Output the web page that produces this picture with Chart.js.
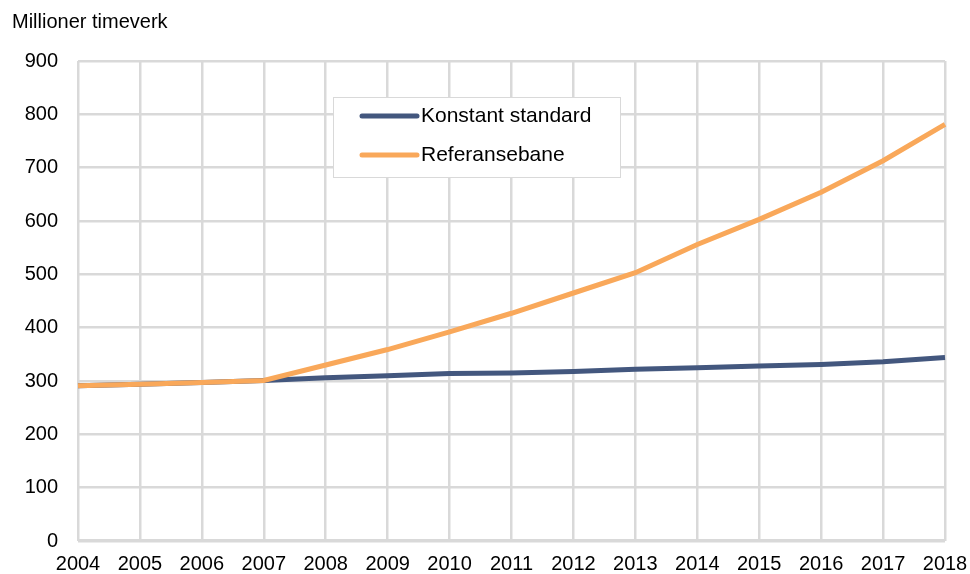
<!DOCTYPE html>
<html>
<head>
<meta charset="utf-8">
<script src="https://cdn.jsdelivr.net/npm/chart.js@4/dist/chart.umd.min.js"></script>
<style>
  body { margin: 0; background: #fff; }
  canvas { display: block; }
</style>
</head>
<body>
<canvas id="chart" width="970" height="574"></canvas>
<script>
'use strict';
// data
let years = ['2004', '2005', '2006', '2007', '2008', '2009', '2010', '2011', '2012', '2013', '2014', '2015', '2016', '2017', '2018'];
let konstantStandard = [291, 294, 297, 301, 306, 310, 314, 315, 318, 322, 325, 328, 331, 336, 344];
let referansebane = [291, 294, 297, 301, 330, 359, 392, 427, 465, 503, 556, 603, 654, 713, 781];
let yTicks = [0, 100, 200, 300, 400, 500, 600, 700, 800, 900];
let seriesNames = ['Konstant standard', 'Referansebane'];
let seriesColors = ['#43577e', '#f9a85a'];
let yTitle = 'Millioner timeverk';

const fontFamily = '"Liberation Sans", Arial, sans-serif';
const gridColor = '#d9d9d9';

// legend box inside the plot + the axis title on top
const extras = {
  id: 'extras',
  afterDraw(chart) {
    const ctx = chart.ctx;
    ctx.save();
    ctx.fillStyle = '#000';
    ctx.font = '20px ' + fontFamily;
    ctx.textBaseline = 'middle';
    ctx.textAlign = 'left';
    ctx.fillText(yTitle, 12, 22);

    let bx = 333, by = 97, bw = 287, bh = 80;
    ctx.fillStyle = '#fff';
    ctx.fillRect(bx, by, bw, bh);
    ctx.strokeStyle = gridColor;
    ctx.lineWidth = 1;
    ctx.strokeRect(bx + 0.5, by + 0.5, bw, bh);

    ctx.font = '21px ' + fontFamily;
    chart.data.datasets.forEach((ds, i) => {
      let y = 116 + i * 39;
      ctx.strokeStyle = ds.borderColor;
      ctx.lineWidth = 5;
      ctx.lineCap = 'round';
      ctx.beginPath();
      ctx.moveTo(362, y);
      ctx.lineTo(417, y);
      ctx.stroke();
      ctx.fillStyle = '#000';
      ctx.fillText(ds.label, 421, y);
    });
    ctx.restore();
  }
};

let chartObj = document.getElementById('chart').getContext('2d');
let chart = new Chart(chartObj, {
  type: 'line',
  data: {
    labels: years,
    datasets: [{
      label: seriesNames[0],
      data: konstantStandard,
      borderColor: seriesColors[0],
      borderWidth: 5,
      pointRadius: 0,
      tension: 0,
      order: 1
    }, {
      label: seriesNames[1],
      data: referansebane,
      borderColor: seriesColors[1],
      borderWidth: 5,
      pointRadius: 0,
      tension: 0,
      order: 0
    }]
  },
  options: {
    responsive: false,
    animation: false,
    layout: { padding: { top: 61, right: 25, left: 0, bottom: 0 } },
    plugins: {
      legend: { display: false },
      tooltip: { enabled: false }
    },
    scales: {
      x: {
        offset: false,
        grid: { color: gridColor, lineWidth: 2.5, drawTicks: false },
        border: { display: false },
        ticks: {
          color: '#000',
          font: { family: fontFamily, size: 20 },
          padding: 11,
          maxRotation: 0,
          autoSkip: false
        },
        afterFit(scale) {
          scale.height = 33;
          // let the end labels hang over the edges like the original
          scale.paddingLeft = 0;
          scale.paddingRight = 0;
        }
      },
      y: {
        min: 0,
        max: 900,
        afterBuildTicks(scale) { scale.ticks = yTicks.map(v => ({ value: v })); },
        grid: {
          color: gridColor,
          lineWidth: ctx => (ctx.tick && ctx.tick.value === 0 ? 3.5 : 2.5),
          drawTicks: false
        },
        border: { display: false },
        ticks: {
          color: '#000',
          font: { family: fontFamily, size: 20 },
          padding: 20
        },
        afterFit(scale) { scale.width = 78; }
      }
    }
  },
  plugins: [extras]
});
</script>
</body>
</html>
